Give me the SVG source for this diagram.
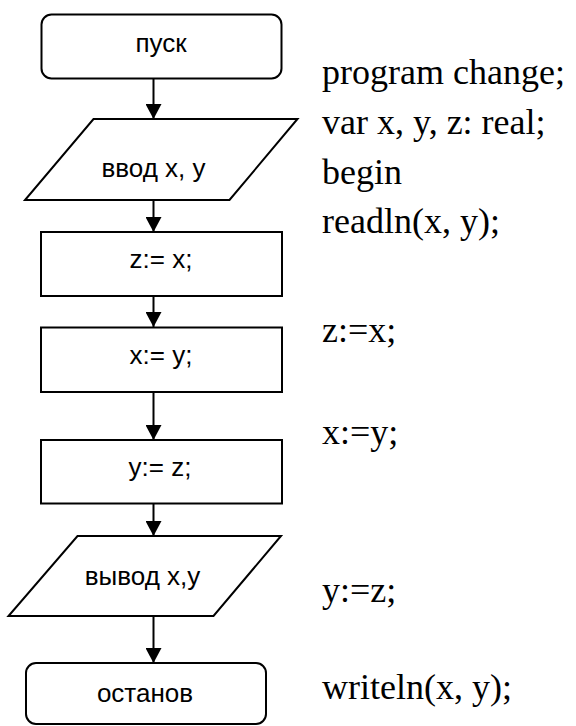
<svg xmlns="http://www.w3.org/2000/svg" width="576" height="726" viewBox="0 0 576 726">
<style>
.shape{fill:#fff;stroke:#000;stroke-width:2}
.lbl{font-family:"Liberation Sans",Arial,sans-serif;font-size:26px;fill:#000;text-anchor:middle}
.code{font-family:"Liberation Serif","Times New Roman",serif;font-size:36px;fill:#000}
.conn{stroke:#000;stroke-width:2;fill:none;marker-end:url(#arr)}
</style>
<defs>
<marker id="arr" markerUnits="userSpaceOnUse" markerWidth="16" markerHeight="16" viewBox="0 0 16 16" refX="15" refY="8" orient="auto">
<path d="M0,0 L15,8 L0,16 Z" fill="#000"/>
</marker>
</defs>
<rect width="576" height="726" fill="#fff"/>
<g id="connectors">
<line class="conn" x1="153.5" y1="78" x2="153.5" y2="119"/>
<line class="conn" x1="153.5" y1="200" x2="153.5" y2="232"/>
<line class="conn" x1="153.5" y1="296" x2="153.5" y2="327"/>
<line class="conn" x1="153.5" y1="392" x2="153.5" y2="440"/>
<line class="conn" x1="153.5" y1="503" x2="153.5" y2="536"/>
<line class="conn" x1="153.5" y1="616" x2="153.5" y2="663"/>
</g>
<g id="start">
<rect class="shape" x="41.5" y="14.5" width="240" height="64" rx="10"/>
<text class="lbl" x="161" y="52">пуск</text>
</g>
<g id="input">
<polygon class="shape" points="93.5,119 297.5,119 229.5,200 25,200"/>
<text class="lbl" x="153.5" y="177">ввод x, y</text>
</g>
<g id="assign-z">
<rect class="shape" x="41" y="232" width="241" height="64"/>
<text class="lbl" x="161" y="268">z:= x;</text>
</g>
<g id="assign-x">
<rect class="shape" x="41" y="327.5" width="241" height="64.5"/>
<text class="lbl" x="161" y="364">x:= y;</text>
</g>
<g id="assign-y">
<rect class="shape" x="41" y="440" width="241" height="63.5"/>
<text class="lbl" x="160" y="476">y:= z;</text>
</g>
<g id="output">
<polygon class="shape" points="77.5,536 281,536 213.5,616 8.5,616"/>
<text class="lbl" x="142.5" y="585">вывод x,y</text>
</g>
<g id="stop">
<rect class="shape" x="26" y="663" width="240" height="61" rx="10"/>
<text class="lbl" x="145" y="702">останов</text>
</g>
<g id="code">
<text class="code" x="322" y="84">program change;</text>
<text class="code" x="322" y="134">var x, y, z: real;</text>
<text class="code" x="322" y="184">begin</text>
<text class="code" x="322" y="233">readln(x, y);</text>
<text class="code" x="322" y="342">z:=x;</text>
<text class="code" x="322" y="444">x:=y;</text>
<text class="code" x="322" y="602">y:=z;</text>
<text class="code" x="322" y="699">writeln(x, y);</text>
</g>
</svg>
